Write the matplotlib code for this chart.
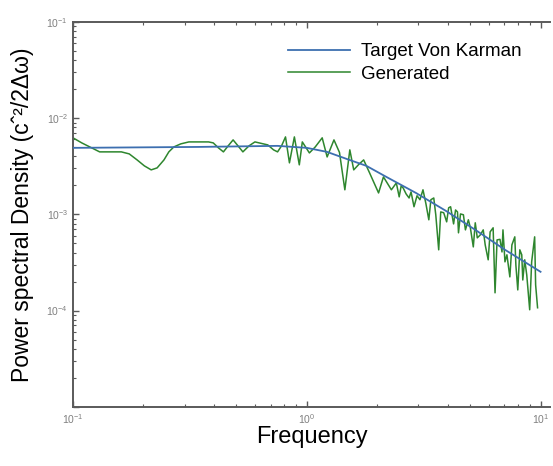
import matplotlib
matplotlib.use("Agg")
import matplotlib.pyplot as plt
from matplotlib.ticker import LogLocator, NullFormatter, FixedLocator, FixedFormatter

plt.rcParams['font.family'] = ['Liberation Sans', 'DejaVu Sans']
plt.rcParams['mathtext.fontset'] = 'custom'
plt.rcParams['mathtext.rm'] = 'Liberation Sans'
plt.rcParams['mathtext.it'] = 'Liberation Sans:italic'

# target Von Karman spectrum
target_freq = [0.10, 0.344, 0.75, 1.00, 1.22, 1.48, 1.80, 2.19, 2.93, 3.93, 5.26, 7.05, 10.0]
target_psd = [4.91e-3, 5.02e-3, 5.15e-3, 4.91e-3, 4.46e-3, 3.77e-3, 3.19e-3, 2.45e-3,
              1.67e-3, 1.09e-3, 6.90e-4, 4.28e-4, 2.53e-4]

# spectrum of the generated signal
gen_freq = [0.100, 0.109, 0.118, 0.130, 0.161, 0.174, 0.188, 0.202, 0.216, 0.229,
            0.245, 0.257, 0.270, 0.289, 0.313, 0.380, 0.398, 0.419, 0.440, 0.461,
            0.484, 0.508, 0.533, 0.566, 0.600, 0.681, 0.721, 0.750, 0.780, 0.811,
            0.843, 0.885, 0.929, 0.957, 1.026, 1.087, 1.164, 1.222, 1.307, 1.380,
            1.455, 1.528, 1.588, 1.668, 1.751, 1.856, 2.028, 2.128, 2.301, 2.416,
            2.485, 2.534, 2.584, 2.660, 2.739, 2.793, 2.875, 2.962, 3.049, 3.141,
            3.233, 3.327, 3.395, 3.493, 3.563, 3.667, 3.741, 3.852, 3.966, 4.045,
            4.123, 4.246, 4.329, 4.413, 4.456, 4.545, 4.677, 4.771, 4.911, 5.009,
            5.156, 5.256, 5.363, 5.518, 5.686, 5.797, 5.970, 6.086, 6.268, 6.387,
            6.516, 6.706, 6.840, 6.906, 7.043, 7.180, 7.390, 7.541, 7.759, 7.841,
            7.990, 8.152, 8.310, 8.394, 8.557, 8.728, 8.985, 9.161, 9.435, 9.526,
            9.710]
gen_psd = [6.24e-3, 5.53e-3, 5.02e-3, 4.46e-3, 4.46e-3, 4.25e-3, 3.68e-3, 3.19e-3, 2.90e-3, 3.04e-3,
           3.68e-3, 4.46e-3, 5.02e-3, 5.40e-3, 5.66e-3, 5.66e-3, 5.53e-3, 4.91e-3, 4.46e-3, 5.15e-3,
           5.94e-3, 5.15e-3, 4.46e-3, 5.15e-3, 5.66e-3, 5.27e-3, 4.68e-3, 4.46e-3, 5.15e-3, 6.38e-3,
           3.43e-3, 6.38e-3, 3.27e-3, 5.66e-3, 4.35e-3, 5.02e-3, 6.24e-3, 3.95e-3, 5.94e-3, 4.40e-3,
           1.80e-3, 4.68e-3, 2.90e-3, 3.30e-3, 3.68e-3, 2.70e-3, 1.67e-3, 2.45e-3, 1.80e-3, 2.12e-3,
           1.52e-3, 1.98e-3, 1.88e-3, 1.63e-3, 1.48e-3, 1.71e-3, 1.20e-3, 1.56e-3, 1.42e-3, 1.80e-3,
           1.29e-3, 8.78e-4, 1.42e-3, 1.48e-3, 9.88e-4, 4.28e-4, 1.06e-3, 1.04e-3, 8.36e-4, 1.17e-3,
           1.20e-3, 7.96e-4, 1.11e-3, 1.06e-3, 6.43e-4, 1.01e-3, 9.90e-4, 6.90e-4, 8.78e-4, 7.25e-4,
           4.59e-4, 8.17e-4, 5.70e-4, 6.10e-4, 6.90e-4, 4.82e-4, 3.37e-4, 6.58e-4, 7.25e-4, 1.53e-4,
           5.43e-4, 5.50e-4, 4.07e-4, 6.90e-4, 3.21e-4, 3.80e-4, 2.24e-4, 4.82e-4, 5.84e-4, 2.98e-4,
           1.64e-4, 4.28e-4, 3.80e-4, 2.08e-4, 3.37e-4, 2.35e-4, 1.02e-4, 3.21e-4, 5.84e-4, 1.85e-4,
           1.07e-4]

blue = '#3d6fb0'
green = '#2e862e'
axis_grey = '#5a5a5a'

fig = plt.figure(figsize=(5.53, 4.66), dpi=100)
ax = fig.add_axes([0.132, 0.127, 0.863, 0.826])

ax.plot(gen_freq, gen_psd, color=green, linewidth=1.1, label='Generated', zorder=2)
ax.plot(target_freq, target_psd, color=blue, linewidth=1.3, label='Target Von Karman', zorder=3)

ax.set_xscale('log')
ax.set_yscale('log')
ax.set_xlim(0.1, 11.0)
ax.set_ylim(1e-5, 1e-1)

ax.yaxis.set_major_locator(FixedLocator([1e-5, 1e-4, 1e-3, 1e-2, 1e-1]))
ax.yaxis.set_major_formatter(FixedFormatter(['', r'$10^{-4}$', r'$10^{-3}$', r'$10^{-2}$', r'$10^{-1}$']))
ax.yaxis.set_minor_locator(LogLocator(base=10, subs=range(2, 10)))
ax.yaxis.set_minor_formatter(NullFormatter())
ax.xaxis.set_major_locator(FixedLocator([0.1, 1, 10]))
ax.xaxis.set_major_formatter(FixedFormatter([r'$10^{-1}$', r'$10^{0}$', r'$10^{1}$']))
ax.xaxis.set_minor_locator(LogLocator(base=10, subs=range(2, 10)))
ax.xaxis.set_minor_formatter(NullFormatter())

ax.tick_params(which='both', direction='in', top=True, right=False, color=axis_grey,
               labelcolor='#808080', labelsize=7.5)
ax.tick_params(which='major', length=4, width=1)
ax.tick_params(which='minor', length=2.5, width=0.8)
ax.tick_params(axis='x', pad=4)

for side in ('left', 'bottom', 'top'):
    ax.spines[side].set_color(axis_grey)
    ax.spines[side].set_linewidth(1.4)
ax.spines['right'].set_visible(False)

ax.set_xlabel('Frequency', fontsize=17, labelpad=0)
ax.set_ylabel('Power spectral Density (c\u02c6\u00b2/2\u0394\u03c9)', fontsize=16.5, labelpad=9)

handles, labels = ax.get_legend_handles_labels()
ax.legend(handles[::-1], labels[::-1], loc='upper left', bbox_to_anchor=(0.45, 0.945),
          frameon=False, fontsize=13.5, handlelength=3.3, handletextpad=0.6,
          labelspacing=0.3, borderpad=0, borderaxespad=0)

fig.savefig('out.png', dpi=100)
